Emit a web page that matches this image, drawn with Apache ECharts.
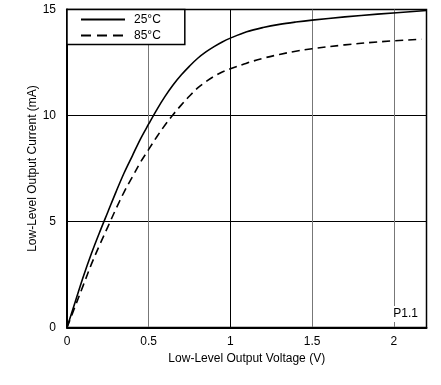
<!DOCTYPE html>
<html><head><meta charset="utf-8">
<script src="https://cdn.jsdelivr.net/npm/echarts@6/dist/echarts.min.js"></script>
<style>html,body{margin:0;padding:0;background:#fff}#c{width:441px;height:385px}</style>
</head><body><div id="c"></div>
<script>
var xTicks = [0, 0.5, 1, 1.5, 2];
var yTicks = [0, 5, 10, 15];
var seriesNames = ['25°C', '85°C'];
var v25 = [0,0.05,0.1,0.15,0.2,0.25,0.3,0.35,0.4,0.45,0.5,0.55,0.6,0.65,0.7,0.75,0.8,0.85,0.9,0.95,1.0,1.1,1.2,1.3,1.4,1.5,1.7,1.9,2.2];
var i25 = [0,1.2,2.4,3.5,4.5,5.45,6.4,7.3,8.1,8.9,9.6,10.28,10.9,11.45,11.92,12.33,12.7,13.0,13.25,13.47,13.65,13.95,14.15,14.3,14.41,14.5,14.65,14.78,14.95];
var v85 = [0,0.05,0.1,0.15,0.2,0.25,0.3,0.35,0.4,0.45,0.5,0.55,0.6,0.65,0.7,0.75,0.8,0.85,0.9,0.95,1.0,1.1,1.2,1.3,1.4,1.5,1.7,1.9,2.17];
var i85 = [0,1.0,2.0,3.0,3.9,4.75,5.6,6.4,7.1,7.8,8.4,9.0,9.55,10.05,10.5,10.92,11.3,11.6,11.85,12.05,12.2,12.47,12.7,12.88,13.03,13.15,13.33,13.47,13.6];

function pairs(xs, ys){ return xs.map(function(x,i){ return [x, ys[i]]; }); }
var font = 'Liberation Sans, Arial, sans-serif';
var chart = echarts.init(document.getElementById('c'), null, {renderer:'canvas'});
chart.setOption({
  animation: false,
  backgroundColor: '#fff',
  grid: {left: 67, right: 14.5, top: 9.5, bottom: 57.5, show: true, borderColor: '#000', borderWidth: 1.5},
  legend: {
    orient: 'vertical', left: 67, top: 9.5,
    data: [{name: seriesNames[0]}, {name: seriesNames[1], lineStyle: {type: [10, 6]}}],
    itemWidth: 44, itemHeight: 12, itemGap: 4,
    padding: [4, 24, 3, 13],
    borderColor: '#000', borderWidth: 1.5, backgroundColor: '#fff',
    itemStyle: {opacity: 0},
    textStyle: {fontFamily: font, fontSize: 12, color: '#000', lineHeight: 12, padding: [0,0,0,4]}
  },
  xAxis: {
    type: 'value', min: 0, max: 2.2, interval: 0.5,
    name: 'Low-Level Output Voltage (V)', nameLocation: 'middle', nameGap: 24,
    nameTextStyle: {fontFamily: font, fontSize: 12, color: '#000'},
    axisLine: {show: true, lineStyle: {color: '#000', width: 2}},
    axisTick: {show: false},
    axisLabel: {fontFamily: font, fontSize: 12, color: '#000', margin: 8,
      formatter: function(v){ return xTicks.indexOf(v) >= 0 ? String(v) : ''; }},
    splitLine: {show: true, lineStyle: {color: ['#000', '#777', '#000', '#777', '#777'], width: 1}}
  },
  yAxis: {
    type: 'value', min: 0, max: 15, interval: 5,
    name: 'Low-Level Output Current (mA)', nameLocation: 'middle', nameGap: 28, nameMoveOverlap: false,
    nameTextStyle: {fontFamily: font, fontSize: 12, color: '#000'},
    axisLine: {show: true, lineStyle: {color: '#000', width: 2}},
    axisTick: {show: false},
    axisLabel: {fontFamily: font, fontSize: 12, color: '#000', margin: 11,
      formatter: function(v){ return yTicks.indexOf(v) >= 0 ? String(v) : ''; }},
    splitLine: {show: true, lineStyle: {color: '#000', width: 1}}
  },
  graphic: [{
    type: 'text', right: 22, bottom: 63, z: 100,
    style: {text: 'P1.1', font: '12px ' + font, fill: '#000', backgroundColor: '#fff', padding: [2, 1]}
  }],
  series: [
    {name: seriesNames[0], type: 'line', data: pairs(v25, i25), smooth: 0.35, symbol: 'none',
     lineStyle: {color: '#000', width: 1.6, type: 'solid'}, itemStyle: {color: '#000'}},
    {name: seriesNames[1], type: 'line', data: pairs(v85, i85), smooth: 0.35, symbol: 'none',
     lineStyle: {color: '#000', width: 1.6, type: [8, 5]}, itemStyle: {color: '#000'}}
  ]
});
</script></body></html>
